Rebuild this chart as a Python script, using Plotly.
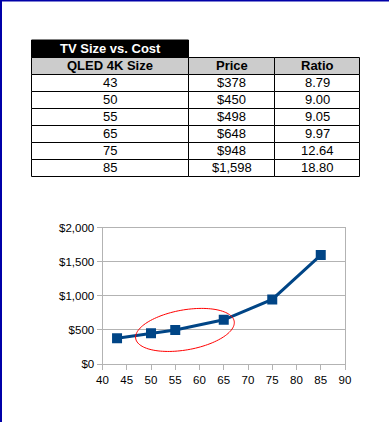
import numpy as np
import plotly.graph_objects as go

# ---- data ----
table_title = "TV Size vs. Cost"
col_headers = ["QLED 4K Size", "Price", "Ratio"]
sizes = [43, 50, 55, 65, 75, 85]
prices = [378, 450, 498, 648, 948, 1598]
ratios = [8.79, 9.00, 9.05, 9.97, 12.64, 18.80]
x_ticks = list(range(40, 95, 5))
y_ticks = [0, 500, 1000, 1500, 2000]

W, H = 389, 422
FONT = "Liberation Sans, Arial, sans-serif"
BLUE = "#004586"
GRID = "#b3b3b3"

# plot area in pixels
px0, px1 = 102.5, 345.0
py_top, py_bot = 227.7, 364.0

fig = go.Figure()

# ---- line chart ----
fig.add_trace(go.Scatter(
    x=sizes, y=prices, mode="lines+markers",
    line=dict(color=BLUE, width=3),
    marker=dict(symbol="square", size=10, color=BLUE),
    showlegend=False, hoverinfo="skip",
))

# ellipse highlighting the 50-65 range (center in data coords, radii in px)
ux = (px1 - px0) / (x_ticks[-1] - x_ticks[0])
uy = (py_bot - py_top) / (y_ticks[-1] - y_ticks[0])
cx, cy = 57.0, 500.0
a_px, b_px, ang = 50.0, 20.0, np.deg2rad(10)
t = np.linspace(0, 2 * np.pi, 120)
ex = a_px * np.cos(t) * np.cos(ang) - b_px * np.sin(t) * np.sin(ang)
ey = a_px * np.cos(t) * np.sin(ang) + b_px * np.sin(t) * np.cos(ang)
xs = cx + ex / ux
ys = cy + ey / uy
path = "M " + " L ".join(f"{x:.4f},{y:.3f}" for x, y in zip(xs, ys)) + " Z"

shapes = [
    dict(type="path", xref="x", yref="y", path=path,
         line=dict(color="#ff0000", width=1)),
]
annotations = []

# ---- table (cells built from the data lists) ----
col_edges = [31.5, 188.5, 274.5, 359.5]
title_top = 40.0
row_top = 57.5
row_h = 17.0


def px_x(v):
    return v / W


def px_y(v):
    return 1 - v / H


def add_cell(c, top, bottom, text, fill, font_color, bold):
    x0, x1 = col_edges[c], col_edges[c + 1]
    shapes.append(dict(type="rect", xref="paper", yref="paper",
                       x0=px_x(x0), x1=px_x(x1), y0=px_y(bottom), y1=px_y(top),
                       fillcolor=fill, line=dict(color="black", width=1),
                       layer="above"))
    annotations.append(dict(
        text=f"<b>{text}</b>" if bold else text,
        xref="paper", yref="paper",
        x=px_x((x0 + x1) / 2), y=px_y((top + bottom) / 2 - 0.5),
        xanchor="center", yanchor="middle", showarrow=False,
        font=dict(family=FONT, size=13, color=font_color)))


# title cell
add_cell(0, title_top, row_top, table_title, "black", "white", True)
# header
for c, h in enumerate(col_headers):
    add_cell(c, row_top, row_top + row_h, h, "#cccccc", "black", True)
# body
body_cols = [[str(s) for s in sizes],
             [f"${p:,}" for p in prices],
             [f"{r:.2f}" for r in ratios]]
for r in range(len(sizes)):
    top = row_top + row_h * (r + 1)
    for c in range(3):
        add_cell(c, top, top + row_h, body_cols[c][r], "white", "black", False)

# blue page border (left & top)
shapes += [
    dict(type="rect", xref="paper", yref="paper", x0=0, x1=2 / W, y0=0, y1=1,
         fillcolor="#0000a8", line=dict(width=0)),
    dict(type="rect", xref="paper", yref="paper", x0=0, x1=1, y0=1 - 1.5 / H, y1=1,
         fillcolor="#0000a8", line=dict(width=0)),
]

fig.update_layout(
    width=W, height=H,
    margin=dict(l=0, r=0, t=0, b=0, autoexpand=False),
    paper_bgcolor="white", plot_bgcolor="white",
    font=dict(family=FONT, size=11.5, color="black"),
    xaxis=dict(
        domain=[px0 / W, px1 / W], range=[x_ticks[0], x_ticks[-1]],
        tickvals=x_ticks, ticks="outside", ticklen=5, tickcolor=GRID,
        showline=True, linecolor=GRID, linewidth=1, mirror=True,
        showgrid=False, zeroline=False, fixedrange=True,
    ),
    yaxis=dict(
        domain=[1 - py_bot / H, 1 - py_top / H], range=[y_ticks[0], y_ticks[-1]],
        tickvals=y_ticks, ticktext=[f"${v:,}" for v in y_ticks],
        ticks="outside", ticklen=5, tickcolor=GRID,
        showline=True, linecolor=GRID, linewidth=1, mirror=True,
        showgrid=True, gridcolor=GRID, gridwidth=1, zeroline=False, fixedrange=True,
    ),
    shapes=shapes,
    annotations=annotations,
)

fig.write_html("out.html",
               config={"displayModeBar": False},
               post_script="document.body.style.margin='0px';document.body.style.padding='0px';")
